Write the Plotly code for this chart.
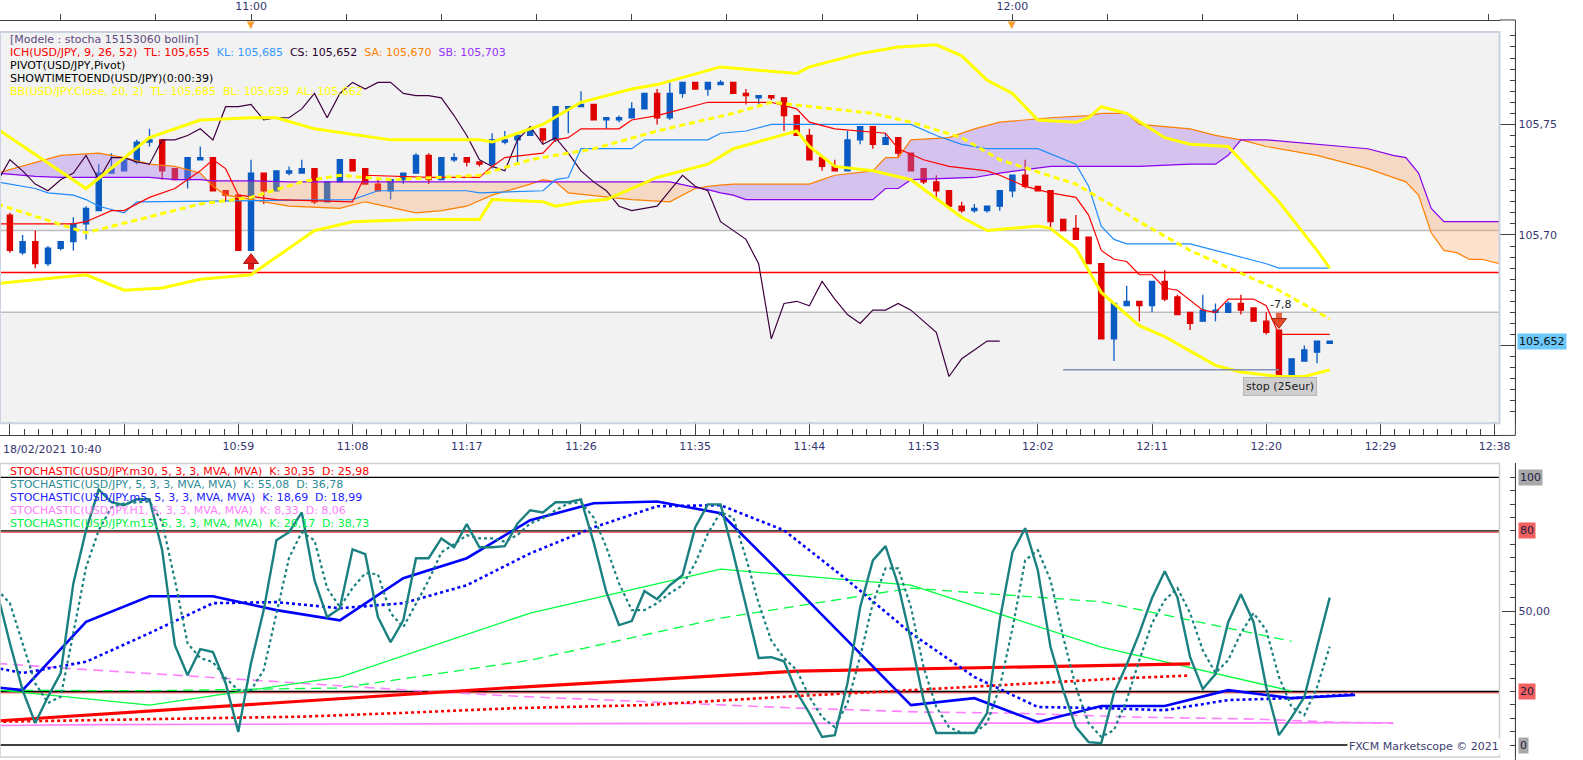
import plotly.graph_objects as go

# ======================= DATA =======================
# USD/JPY 1-minute bars, bar 0 = 18/02/2021 10:40
bar_idx = list(range(106))
open_ = [105.714,105.709,105.692,105.697,105.687,105.694,105.697,105.705,105.711,105.728,
         105.729,105.733,105.742,105.743,105.730,105.725,105.734,105.735,105.720,105.718,
         105.693,105.728,105.720,105.728,105.728,105.730,105.715,105.724,105.734,105.730,
         105.723,105.720,105.725,105.728,105.736,105.725,105.734,105.735,105.733,105.732,
         105.742,105.743,105.745,105.748,105.743,105.757,105.758,105.759,105.752,105.752,
         105.753,105.757,105.764,105.753,105.764,105.769,105.766,105.768,105.769,105.764,
         105.762,105.763,105.762,105.754,105.745,105.735,105.731,105.729,105.743,105.749,
         105.741,105.744,105.737,105.730,105.724,105.720,105.713,105.711,105.711,105.713,
         105.720,105.727,105.722,105.720,105.707,105.703,105.699,105.687,105.653,105.668,
         105.670,105.668,105.679,105.672,105.665,105.661,105.665,105.665,105.669,105.667,
         105.661,105.657,105.636,105.643,105.647,105.651]
high = [105.715,105.710,105.700,105.702,105.695,105.697,105.708,105.713,105.732,105.737,
        105.734,105.743,105.748,105.743,105.730,105.735,105.740,105.735,105.720,105.718,
        105.734,105.728,105.729,105.731,105.734,105.730,105.724,105.734,105.734,105.730,
        105.725,105.725,105.728,105.737,105.737,105.735,105.737,105.735,105.733,105.746,
        105.747,105.745,105.749,105.748,105.758,105.758,105.765,105.759,105.753,105.754,
        105.760,105.764,105.766,105.769,105.769,105.769,105.769,105.770,105.769,105.766,
        105.763,105.763,105.762,105.754,105.748,105.735,105.734,105.747,105.749,105.749,
        105.746,105.744,105.737,105.730,105.727,105.720,105.715,105.714,105.713,105.720,
        105.727,105.734,105.722,105.720,105.707,105.709,105.699,105.687,105.669,105.677,
        105.670,105.679,105.684,105.673,105.665,105.673,105.669,105.670,105.673,105.667,
        105.665,105.657,105.644,105.650,105.652,105.652]
low = [105.709,105.692,105.691,105.685,105.686,105.693,105.693,105.698,105.711,105.728,
       105.729,105.732,105.740,105.725,105.725,105.721,105.734,105.720,105.715,105.693,
       105.693,105.714,105.720,105.727,105.728,105.714,105.715,105.724,105.729,105.723,
       105.720,105.716,105.723,105.728,105.723,105.725,105.733,105.731,105.731,105.730,
       105.741,105.732,105.745,105.741,105.742,105.746,105.758,105.752,105.748,105.751,
       105.753,105.757,105.750,105.752,105.762,105.766,105.763,105.768,105.764,105.759,
       105.759,105.761,105.747,105.745,105.734,105.729,105.729,105.729,105.741,105.739,
       105.741,105.735,105.729,105.723,105.717,105.712,105.710,105.710,105.710,105.711,
       105.717,105.721,105.720,105.703,105.702,105.698,105.687,105.653,105.643,105.668,
       105.661,105.665,105.670,105.664,105.657,105.661,105.661,105.665,105.664,105.661,
       105.655,105.636,105.636,105.643,105.642,105.651]
close = [105.709,105.693,105.697,105.687,105.694,105.697,105.705,105.712,105.728,105.730,
         105.734,105.742,105.743,105.729,105.725,105.735,105.735,105.720,105.718,105.693,
         105.728,105.720,105.729,105.729,105.730,105.715,105.724,105.734,105.729,105.723,
         105.720,105.725,105.728,105.736,105.725,105.735,105.735,105.733,105.732,105.743,
         105.743,105.745,105.748,105.743,105.758,105.758,105.759,105.752,105.753,105.753,
         105.757,105.764,105.753,105.764,105.769,105.766,105.769,105.769,105.764,105.763,
         105.763,105.762,105.754,105.745,105.734,105.731,105.729,105.743,105.749,105.741,
         105.744,105.737,105.729,105.724,105.720,105.713,105.711,105.712,105.713,105.720,
         105.727,105.722,105.720,105.706,105.702,105.698,105.687,105.653,105.669,105.670,
         105.668,105.679,105.671,105.664,105.660,105.666,105.666,105.669,105.666,105.661,
         105.656,105.636,105.644,105.648,105.652,105.652]

# Ichimoku (9, 26, 52)
tenkan_idx = [0,6,7,9,10,12,14,15,16,17,18,19,22,28,29,34,38,39,40,43,44,45,46,49,50,52,56,61,63,64,66,70,71,
              73,75,78,79,81,83,85,86,87,88,89,90,91,92,93,95,96,97,99,100,101,105]
tenkan = [105.705,105.705,105.706,105.711,105.711,105.717,105.721,105.725,105.729,105.734,105.730,105.718,105.716,
          105.715,105.727,105.726,105.726,105.731,105.735,105.737,105.743,105.744,105.748,105.748,105.752,105.754,
          105.760,105.760,105.757,105.751,105.748,105.746,105.739,105.734,105.731,105.729,105.727,105.722,105.719,
          105.717,105.709,105.693,105.689,105.688,105.682,105.682,105.676,105.675,105.666,105.665,105.671,105.671,
          105.668,105.655,105.655]
kijun_idx = [0,3,4,6,7,8,10,11,28,30,37,38,43,44,45,46,50,51,56,57,59,61,72,74,76,78,82,85,86,87,88,89,94,96,100,101,105]
kijun = [105.724,105.721,105.719,105.718,105.716,105.713,105.710,105.715,105.716,105.720,105.720,105.719,105.720,
         105.725,105.726,105.739,105.739,105.743,105.743,105.746,105.747,105.750,105.750,105.745,105.741,105.739,
         105.739,105.732,105.722,105.704,105.698,105.696,105.696,105.693,105.687,105.685,105.685]
chikou_shift = 26
cloud_idx = [0,3,5,8,10,12,14,16,17,18,20,23,27,29,33,35,37,39,42,43,44,45,50,53,55,56,57,58,59,64,
             65,66,69,70,71,72,75,77,79,83,86,87,89,90,94,96,97,98,100,104,108,110,111,112,113,114,115,116,117,119]
span_a = [105.728,105.733,105.736,105.737,105.735,105.732,105.731,105.728,105.722,105.718,
          105.716,105.713,105.712,105.715,105.710,105.711,105.713,105.718,105.723,105.725,
          105.724,105.719,105.716,105.715,105.721,105.722,105.7225,105.723,105.723,105.723,
          105.725,105.727,105.729,105.735,105.735,105.743,105.744,105.748,105.751,105.753,
          105.754,105.755,105.755,105.750,105.748,105.745,105.744,105.743,105.740,105.736,
          105.730,105.726,105.724,105.718,105.701,105.693,105.692,105.689,105.689,105.686]
span_b = [105.728,105.7265,105.726,105.726,105.726,105.726,105.725,105.725,105.7245,105.7245,
          105.7245,105.724,105.724,105.724,105.724,105.724,105.724,105.724,105.724,105.724,
          105.724,105.724,105.724,105.724,105.7215,105.7205,105.719,105.718,105.716,105.716,
          105.716,105.716,105.716,105.721,105.721,105.725,105.7255,105.726,105.728,105.731,
          105.731,105.731,105.731,105.731,105.732,105.732,105.736,105.743,105.743,105.741,
          105.739,105.736,105.735,105.728,105.712,105.706,105.706,105.706,105.706,105.706]
senkou_now = [105.670, 105.703]   # SA, SB at current bar

# Bollinger (20, 2)
bb_up_idx = [0,7,12,16,20,22,25,31,38,39,43,46,50,52,57,59,63,64,68,71,74,76,78,80,82,85,86,87,89,92,94,97,101,104,105]
bb_upper = [105.748,105.721,105.744,105.752,105.753,105.753,105.748,105.743,105.743,105.742,105.750,105.760,
            105.766,105.768,105.776,105.775,105.773,105.776,105.782,105.785,105.786,105.781,105.770,105.764,
            105.752,105.751,105.753,105.758,105.755,105.744,105.741,105.740,105.715,105.693,105.685]
bb_mid_idx = [0,7,16,20,24,27,31,38,42,47,52,58,61,64,69,72,76,79,85,90,94,101,105]
bb_mid = [105.714,105.701,105.714,105.717,105.724,105.727,105.725,105.727,105.734,105.739,105.747,105.755,
          105.760,105.758,105.755,105.751,105.744,105.734,105.723,105.706,105.693,105.675,105.662]
bb_lo_idx = [0,7,10,13,16,20,22,25,28,33,38,39,43,44,46,48,52,54,56,58,63,64,66,69,72,76,78,82,83,85,86,87,
             90,92,96,98,101,103,105]
bb_lower = [105.678,105.682,105.675,105.676,105.680,105.682,105.690,105.702,105.706,105.707,105.707,105.716,
            105.715,105.713,105.715,105.716,105.726,105.729,105.732,105.739,105.747,105.740,105.731,105.729,
            105.725,105.708,105.702,105.704,105.703,105.694,105.684,105.674,105.659,105.654,105.641,105.638,
            105.636,105.636,105.639]

pivot_level = 105.683
zone_levels = [105.665, 105.702]
buy_idx, buy_price = [20], [105.687]
sell_idx, sell_price, sell_pl = [101], [105.662], ["-7,8"]
stop_idx, stop_price, stop_text = [84, 101], 105.639, "stop (25eur)"

# Stochastics (5, 3, 3)
m1_k = [57,38,20.5,8.2,18,26.9,60.4,80.2,95.5,90.7,89.6,91.8,91.8,72.8,37.3,26.1,35.8,34.7,23.1,4.9,
        30.6,50.4,76.5,79.5,86.9,61.6,47.8,51.1,73.1,71.3,47.8,38.4,46.6,69.8,69.8,77.2,73.9,82.5,73.9,73.9,
        74.3,82.8,87.7,86.9,90.7,90.7,91.8,75.7,57.1,44.8,46.3,57.5,54.5,59.7,63.4,81.3,89.9,89.9,71.6,51.5,
        32.5,32.8,31.3,19.8,11.9,3.0,3.7,23.1,51.5,69.0,74.3,59.7,39.2,16.8,4.5,4.5,4.5,4.5,11.9,46.6,
        72.0,81.0,65.3,36.6,20.5,6.7,1.1,0.7,19.4,30.0,41.8,54.9,64.9,55.2,32.8,20.9,26.5,45.9,56.3,45.9,
        21.6,3.7,10.4,17.9,36.6,55.08]
m1_d = [58,53,38,23,15.7,18,41.8,66.4,80.2,88.8,90.3,90.7,91,83.2,61.6,38,32.5,31,25,20.5,
        20.5,28,49.3,70,79.5,76.5,58.6,51.5,58.6,64.2,63.8,49.3,44,53,61.6,72,75,78.4,77.2,77.2,
        76,78.5,82.8,84.7,87.7,90.3,90.7,85,73.9,60.4,50.4,50.4,53,56.7,59.7,67.9,79,87,85,70,
        53,39,32.5,28,18,10.4,6.7,15.7,33,53,66,66,51.5,29,14.2,6.7,4.5,4.5,8.2,21.6,
        43.5,69,72.8,61.6,40.3,21.6,8.2,3,5.6,16.8,31.7,45.5,54.1,58.6,49.3,35.4,26.9,31.7,41.8,49.3,
        42.9,25.4,14.2,11.2,21.6,36.78]
m5_idx = [-3,2,7,12,17,22,27,32,37,42,47,52,57,62,67,72,77,82,87,92,97,102,107]
m5_k = [23,20.5,46,55.6,55.6,50.4,46.6,62.3,69.8,84,90.3,91,86.6,63,39,14.9,17.5,8.6,14.6,14.6,20.5,17.5,18.69]
m5_d = [31.5,26.9,31.1,41.8,53,53.4,51.1,53,59.7,71.6,81.3,89.2,89.6,80.2,61.6,41.8,25.4,14.2,13.8,13,16.8,17.5,18.99]
m15_idx = [-3,12,27,42,57,72,87,102]
m15_k = [22,14.9,25.4,49.3,65.7,59.7,36.6,20.17]
m15_d = [20.5,20.3,21.3,31.7,47.4,58.6,53.5,38.73]
m30_k_idx = [0,40,63,80,94]
m30_k = [9.0,21.3,27.6,29.1,30.35]
m30_d_idx = [0,12,24,32,41,51,63,72,80,89,94]
m30_d = [8.7,9.7,10.6,12,13.8,14.9,18.3,20.5,22.6,25,25.98]
h1_k_idx = [0,8,40,80,110]
h1_k = [7.3,7.6,8.0,8.3,8.33]
h1_d_idx = [0,5,16,26,34,41,52,63,73,80,90,99,105,110]
h1_d = [30.5,28.8,25.5,22.4,20.0,18.2,15.9,13.8,12.3,11.9,10.4,9.7,8.6,8.06]
stoch_levels = [100, 80, 20, 0]

# Axis labels
time_tick_pos = [1, 10, 19, 28, 37, 46, 55, 64, 73, 82, 91, 100, 109, 118]
time_tick_text = ["", "", "10:59", "11:08", "11:17", "11:26", "11:35", "11:44", "11:53",
                  "12:02", "12:11", "12:20", "12:29", "12:38"]
date_label = "18/02/2021 10:40"
hour_tick_pos = [20, 80]
hour_tick_text = ["11:00", "12:00"]
price_tick_pos = [105.65, 105.70, 105.75]
price_tick_text = ["", "105,70", "105,75"]   # 105,65 sits under the live-price tag

# ======================= STYLE / LAYOUT =======================
W, H = 1583, 760
FONT = "DejaVu Sans"
NAVY = "#353570"
BLUE_C, RED_C = "#0a5cc4", "#e00000"
XD = 1510 / W
AX_POS = 1526 / W
X_RANGE = [0.22, 118.38]
P_RANGE = [105.6149, 105.7918]
S_RANGE = [-4.48, 105.22]


def py(px):
    return 1 - px / H


def fmt(v, nd):
    return f"{v:.{nd}f}".replace(".", ",")


fig = go.Figure()

fig.add_trace(go.Candlestick(
    x=bar_idx, open=open_, high=high, low=low, close=close,
    increasing=dict(line=dict(color=BLUE_C, width=1.3), fillcolor=BLUE_C),
    decreasing=dict(line=dict(color=RED_C, width=1.3), fillcolor=RED_C),
    whiskerwidth=0, xaxis="x", yaxis="y", hoverinfo="skip"))

# cloud fills (split where the spans cross)
CX, CA, CB = [cloud_idx[0]], [span_a[0]], [span_b[0]]
for k in range(1, len(cloud_idx)):
    d0 = span_a[k - 1] - span_b[k - 1]
    d1 = span_a[k] - span_b[k]
    if d0 * d1 < 0:
        t = d0 / (d0 - d1)
        xc = cloud_idx[k - 1] + t * (cloud_idx[k] - cloud_idx[k - 1])
        yc = span_a[k - 1] + t * (span_a[k] - span_a[k - 1])
        CX.append(xc); CA.append(yc); CB.append(yc)
    CX.append(cloud_idx[k]); CA.append(span_a[k]); CB.append(span_b[k])
top = [max(a, b) for a, b in zip(CA, CB)]
fig.add_trace(go.Scatter(x=CX + CX[::-1], y=top + CB[::-1], fill="toself", mode="lines",
                         fillcolor="rgba(165,115,235,0.38)", line=dict(width=0),
                         xaxis="x", yaxis="y", hoverinfo="skip"))
fig.add_trace(go.Scatter(x=CX + CX[::-1], y=top + CA[::-1], fill="toself", mode="lines",
                         fillcolor="rgba(255,160,90,0.30)", line=dict(width=0),
                         xaxis="x", yaxis="y", hoverinfo="skip"))


def add_line(x, y, color, width, dash="solid", xa="x", ya="y"):
    fig.add_trace(go.Scatter(x=x, y=y, mode="lines", line=dict(color=color, width=width, dash=dash),
                             xaxis=xa, yaxis=ya, hoverinfo="skip"))


add_line(cloud_idx, span_a, "#ff8000", 1.2)
add_line(cloud_idx, span_b, "#8a00f0", 1.2)
add_line([i - chikou_shift for i in bar_idx[chikou_shift:]], close[chikou_shift:], "#400040", 1.2)
add_line(kijun_idx, kijun, "#1e8cff", 1.2)
add_line(tenkan_idx, tenkan, "#ff0000", 1.2)
add_line(bb_up_idx, bb_upper, "#ffff00", 3)
add_line(bb_lo_idx, bb_lower, "#ffff00", 3)
add_line(bb_mid_idx, bb_mid, "#ffff00", 3, dash="6px,4px")
add_line(stop_idx, [stop_price, stop_price], "#8090b4", 1.5)

# trade signals
fig.add_trace(go.Scatter(x=buy_idx, y=[p - 0.0013 for p in buy_price], mode="markers",
                         marker=dict(symbol="square", size=6, color="#d81818", line=dict(width=0)),
                         xaxis="x", yaxis="y", hoverinfo="skip"))
fig.add_trace(go.Scatter(x=buy_idx, y=[p + 0.0016 for p in buy_price], mode="markers",
                         marker=dict(symbol="triangle-up", size=13, color="#e82020",
                                     line=dict(width=1, color="#a01010")),
                         xaxis="x", yaxis="y", hoverinfo="skip"))
fig.add_trace(go.Scatter(x=sell_idx, y=[p + 0.0015 for p in sell_price], mode="markers",
                         marker=dict(symbol="square", size=6, color="#e86040", line=dict(width=0)),
                         xaxis="x", yaxis="y", hoverinfo="skip"))
fig.add_trace(go.Scatter(x=sell_idx, y=[p - 0.0013 for p in sell_price], mode="markers",
                         marker=dict(symbol="triangle-down", size=13, color="#e84828",
                                     line=dict(width=1, color="#a02010")),
                         xaxis="x", yaxis="y", hoverinfo="skip"))

# invisible trace for the top hour axis
fig.add_trace(go.Scatter(x=hour_tick_pos, y=[P_RANGE[0], P_RANGE[0]], mode="markers",
                         marker=dict(opacity=0), xaxis="x2", yaxis="y", hoverinfo="skip"))

# ---- stochastic panel ----
add_line(h1_k_idx, h1_k, "#ff80ff", 1.6, xa="x3", ya="y3")
add_line(h1_d_idx, h1_d, "#ff80ff", 1.6, dash="10px,6px", xa="x3", ya="y3")
add_line(m15_idx, m15_k, "#00ff40", 1.3, xa="x3", ya="y3")
add_line(m15_idx, m15_d, "#00ff40", 1.3, dash="10px,6px", xa="x3", ya="y3")
add_line(m30_k_idx, m30_k, "#ff0000", 3.2, xa="x3", ya="y3")
add_line(m30_d_idx, m30_d, "#ff0000", 2.6, dash="dot", xa="x3", ya="y3")
add_line(m5_idx, m5_k, "#0000ff", 2.6, xa="x3", ya="y3")
add_line(m5_idx, m5_d, "#0000ff", 2.6, dash="dot", xa="x3", ya="y3")
add_line(bar_idx, m1_d, "#1a8080", 2.2, dash="dot", xa="x3", ya="y3")
add_line(bar_idx, m1_k, "#1a8080", 2.4, xa="x3", ya="y3")

# ---- shapes ----
shapes = [
    dict(type="rect", xref="x domain", yref="y domain", x0=0, x1=1, y0=0, y1=1,
         fillcolor="#f2f2f2", line=dict(width=0), layer="below"),
    dict(type="rect", xref="x domain", yref="y", x0=0, x1=1, y0=zone_levels[0], y1=zone_levels[1],
         fillcolor="white", line=dict(width=0), layer="below"),
]
for lv in zone_levels:
    shapes.append(dict(type="line", xref="x domain", yref="y", x0=0, x1=1, y0=lv, y1=lv,
                       line=dict(color="#bdbdbd", width=1.5), layer="below"))
shapes.append(dict(type="line", xref="x domain", yref="y", x0=0, x1=1, y0=pivot_level, y1=pivot_level,
                   line=dict(color="#ff0000", width=1.5), layer="below"))
shapes.append(dict(type="rect", xref="x domain", yref="y domain", x0=0, x1=1, y0=0, y1=1,
                   line=dict(color="#c9d3df", width=2), fillcolor="rgba(0,0,0,0)", layer="above"))
for lv in stoch_levels:
    if lv in (80, 20):
        shapes.append(dict(type="line", xref="x3 domain", yref="y3", x0=0, x1=1, y0=lv - 0.5, y1=lv - 0.5,
                           line=dict(color="#ff3030", width=1), layer="below"))
    shapes.append(dict(type="line", xref="x3 domain", yref="y3", x0=0, x1=1, y0=lv, y1=lv,
                       line=dict(color="#000000", width=1.3), layer="below"))
shapes.append(dict(type="rect", xref="x3 domain", yref="y3 domain", x0=0, x1=1, y0=0, y1=1,
                   line=dict(color="#cfcfcf", width=1.5), fillcolor="rgba(0,0,0,0)", layer="above"))
# axis frame: top/bottom time axes reach the price scale, price scale spans both time axes
AXL = dict(color="#404040", width=1)
shapes.append(dict(type="line", xref="paper", yref="paper", x0=AX_POS, x1=AX_POS, y0=py(435), y1=py(19), line=AXL))
shapes.append(dict(type="line", xref="paper", yref="paper", x0=XD, x1=AX_POS, y0=py(19), y1=py(19), line=AXL))
shapes.append(dict(type="line", xref="paper", yref="paper", x0=XD, x1=AX_POS, y0=py(435), y1=py(435), line=AXL))
shapes.append(dict(type="line", xref="paper", yref="paper", x0=AX_POS, x1=AX_POS, y0=0, y1=py(463), line=AXL))

# ---- annotations ----
ann = []
NB = "\u00a0\u00a0"


def legend_line(px_y, html, size=11):
    ann.append(dict(xref="paper", yref="paper", x=8 / W, y=py(px_y), xanchor="left", yanchor="middle",
                    text=html, showarrow=False, font=dict(family=FONT, size=size, color="#000000")))


def sp(color, txt):
    return f'<span style="color:{color}">{txt}</span>'


legend_line(39, sp("#5c4a80", "[Modele : stocha 15153060 bollin]"))
legend_line(52, sp("#ff0000", f"ICH(USD/JPY, 9, 26, 52){NB}TL: {fmt(tenkan[-1], 3)}") + NB +
            sp("#3399ff", f"KL: {fmt(kijun[-1], 3)}") + NB +
            sp("#2a0030", f"CS: {fmt(close[-1], 3)}") + NB +
            sp("#ff8000", f"SA: {fmt(senkou_now[0], 3)}") + NB +
            sp("#9933ff", f"SB: {fmt(senkou_now[1], 3)}"))
legend_line(65, sp("#000000", "PIVOT(USD/JPY,Pivot)"))
legend_line(78, sp("#000000", "SHOWTIMETOEND(USD/JPY)(0:00:39)"))
legend_line(91, sp("#ffff00", f"BB(USD/JPY.Close, 20, 2){NB}TL: {fmt(bb_upper[-1], 3)}{NB}"
                              f"BL: {fmt(bb_lower[-1], 3)}{NB}AL: {fmt(bb_mid[-1], 3)}"))

stoch_legends = [
    ("#ff0000", "USD/JPY.m30", m30_k[-1], m30_d[-1]),
    ("#2e8b96", "USD/JPY", m1_k[-1], m1_d[-1]),
    ("#2020ff", "USD/JPY.m5", m5_k[-1], m5_d[-1]),
    ("#ff80ff", "USD/JPY.H1", h1_k[-1], h1_d[-1]),
    ("#00f040", "USD/JPY.m15", m15_k[-1], m15_d[-1]),
]
for n, (col, sym, kv, dv) in enumerate(stoch_legends):
    legend_line(471 + 13 * n, sp(col, f"STOCHASTIC({sym}, 5, 3, 3, MVA, MVA){NB}K: {fmt(kv, 2)}{NB}D: {fmt(dv, 2)}"))

ann.append(dict(xref="paper", yref="paper", x=1 / W, y=py(449), xanchor="left", yanchor="middle",
                text=date_label, showarrow=False, font=dict(family=FONT, size=11, color=NAVY)))
for hx in hour_tick_pos:
    ann.append(dict(xref="x", yref="paper", x=hx, y=py(24), xanchor="center", yanchor="middle",
                    text="\u25bc", showarrow=False, font=dict(family=FONT, size=10, color="#f5a030")))
ann.append(dict(xref="paper", yref="y", x=1528 / W, y=close[-1], xanchor="left", yanchor="middle",
                text=fmt(close[-1], 3), showarrow=False, bgcolor="#6cc8f8", borderpad=1,
                font=dict(family=FONT, size=11, color="#101010")))
lvl_bg = {100: "#a8a8a8", 80: "#f26060", 20: "#f26060", 0: "#a8a8a8"}
for lv in stoch_levels:
    ann.append(dict(xref="paper", yref="y3", x=1529 / W, y=lv, xanchor="left", yanchor="middle",
                    text=str(lv), showarrow=False, bgcolor=lvl_bg[lv], borderpad=1,
                    font=dict(family=FONT, size=11, color="#202040")))
ann.append(dict(xref="x", yref="y", x=sell_idx[0] + 0.1, y=sell_price[0] + 0.0065, xanchor="center",
                yanchor="middle", text=sell_pl[0], showarrow=False,
                font=dict(family=FONT, size=11, color="#202020")))
ann.append(dict(xref="x", yref="y", x=sell_idx[0] + 0.1, y=stop_price - 0.0076, xanchor="center",
                yanchor="middle", text=stop_text, showarrow=False, bgcolor="#cfcfcf",
                bordercolor="#b8b8b8", borderwidth=1, borderpad=2,
                font=dict(family=FONT, size=11, color="#202020")))
ann.append(dict(xref="paper", yref="paper", x=1511 / W, y=py(746), xanchor="right", yanchor="middle",
                text="FXCM Marketscope \u00a9 2021", showarrow=False, bgcolor="white",
                font=dict(family=FONT, size=11, color="#404070")))

axfont = dict(family=FONT, size=11, color=NAVY)
fig.update_layout(
    width=W, height=H, margin=dict(l=0, r=0, t=0, b=0),
    paper_bgcolor="white", plot_bgcolor="white", showlegend=False,
    separators=",.", boxgap=0.42, hovermode=False,
    shapes=shapes, annotations=ann,
    xaxis=dict(domain=[0, XD], range=X_RANGE, anchor="free", position=py(435), side="bottom",
               showgrid=False, zeroline=False, showline=True, linecolor="#404040", linewidth=1,
               ticks="inside", ticklen=13, tickcolor="#404040", tickmode="array",
               tickvals=time_tick_pos, ticktext=time_tick_text, tickfont=axfont,
               minor=dict(ticks="inside", ticklen=6, tick0=1, dtick=1.125, tickcolor="#404040"),
               rangeslider=dict(visible=False), fixedrange=True),
    xaxis2=dict(overlaying="x", range=X_RANGE, anchor="free", position=py(19), side="top",
                showgrid=False, zeroline=False, showline=True, linecolor="#404040", linewidth=1,
                ticks="outside", ticklen=6, tickcolor="#404040", tickmode="array",
                tickvals=hour_tick_pos, ticktext=hour_tick_text, tickfont=axfont,
                minor=dict(ticks="outside", ticklen=6, tick0=5, dtick=7.5, tickcolor="#404040")),
    xaxis3=dict(domain=[0, XD], range=X_RANGE, anchor="y3", visible=False, showgrid=False),
    yaxis=dict(domain=[py(422.7), py(31)], range=P_RANGE, anchor="free", position=AX_POS, side="right",
               showgrid=False, zeroline=False, showline=True, linecolor="#404040", linewidth=1,
               ticks="inside", ticklen=15, tickcolor="#404040", tickmode="array",
               tickvals=price_tick_pos, ticktext=price_tick_text, tickfont=axfont,
               minor=dict(ticks="inside", ticklen=5, tick0=105.6, dtick=0.005, tickcolor="#404040")),
    yaxis3=dict(domain=[py(757), py(463)], range=S_RANGE, anchor="free", position=AX_POS, side="right",
                showgrid=False, zeroline=False, showline=True, linecolor="#404040", linewidth=1,
                ticks="inside", ticklen=13, tickcolor="#404040", tickmode="array",
                tickvals=[50], ticktext=["50,00"], tickfont=axfont,
                minor=dict(ticks="inside", ticklen=5, tick0=0, dtick=5, tickcolor="#404040")),
)

fig.write_html("out.html", config={"displayModeBar": False},
               post_script="document.body.style.margin='0px';document.body.style.overflow='hidden';")
